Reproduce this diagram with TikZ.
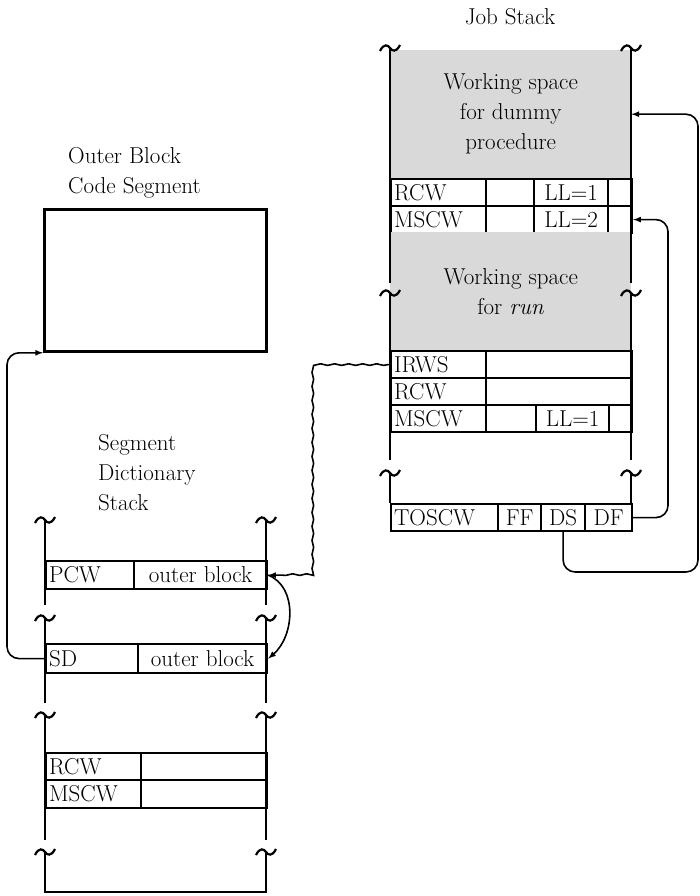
\documentclass[tikz,border=0pt]{standalone}
\usetikzlibrary{decorations.pathmorphing}

\begin{document}
\begin{tikzpicture}[
    x=1pt, y=-1pt,
    every node/.style = {font=\fontsize{23}{30}\selectfont, inner sep=0pt},
    slot/.style = {rectangle, draw, line width=2.2pt, anchor=north west, minimum height=27pt, inner xsep=3pt, inner ysep=0pt},
    cell/.style = {slot, minimum width=#1},
    lcell/.style = {slot, minimum width=#1, text width=#1-6pt, align=left},
    wspace/.style = {rectangle, fill=gray!30, anchor=north west, align=center, minimum width=241pt},
    codebox/.style = {rectangle, draw, line width=2.8pt, anchor=north west},
    frame/.style = {line width=2.6pt},
    link/.style = {draw, -latex, line width=1.6pt, rounded corners=12pt},
    wavy/.style = {rounded corners=0pt, decorate, decoration={snake, amplitude=0.8pt, segment length=14pt, pre length=2pt, post length=10pt}},
    brk/.pic = {\draw[line width=2.2pt] (-10,3) .. controls (-6,-5) and (-2,-3) .. (0,0) .. controls (2,3) and (6,5) .. (10,-3);}
]
    \useasboundingbox (0,0) rectangle (700,896);

    % Job stack
    \node (jobTitle) at (510,17) {Job Stack};
    \node [wspace, minimum height=128pt] (wsDummy) at (390,50) {Working space\\for dummy\\procedure};
    \node [lcell=95pt] (r1A) at (390,178) {RCW};
    \node [cell=48pt] (r1B) at (485,178) {};
    \node [cell=74pt] (r1C) at (533,178) {LL=1};
    \node [cell=24pt] (r1D) at (607,178) {};
    \node [lcell=95pt] (m2A) at (390,205) {MSCW};
    \node [cell=48pt] (m2B) at (485,205) {};
    \node [cell=74pt] (m2C) at (533,205) {LL=2};
    \node [cell=24pt] (m2D) at (607,205) {};
    \node [wspace, minimum height=118pt] (wsRun) at (390,232) {Working space\\for \textit{run}};
    \node [lcell=95pt] (irwsA) at (390,350) {IRWS};
    \node [cell=146pt] (irwsB) at (485,350) {};
    \node [lcell=95pt] (r3A) at (390,377) {RCW};
    \node [cell=146pt] (r3B) at (485,377) {};
    \node [lcell=95pt] (m3A) at (390,404) {MSCW};
    \node [cell=50pt] (m3B) at (485,404) {};
    \node [cell=73pt] (m3C) at (535,404) {LL=1};
    \node [cell=23pt] (m3D) at (608,404) {};
    \node [lcell=107pt] (tosA) at (390,503) {TOSCW};
    \node [cell=43pt] (tosB) at (497,503) {FF};
    \node [cell=44pt] (tosC) at (540,503) {DS};
    \node [cell=47pt] (tosD) at (584,503) {DF};

    \draw [frame] (390,48) -- (390,283) (631,48) -- (631,283);
    \draw [frame] (390,293) -- (390,460) (631,293) -- (631,460);
    \draw [frame] (390,473) -- (390,503) (631,473) -- (631,503);
    \pic at (390,48) {brk};
    \pic at (631,48) {brk};
    \pic at (390,293) {brk};
    \pic at (631,293) {brk};
    \pic at (390,473) {brk};
    \pic at (631,473) {brk};

    % Outer block code segment
    \node [anchor=west, align=left] (codeTitle) at (68,173) {Outer Block\\Code Segment};
    \node [codebox, minimum width=222pt, minimum height=142pt] (code) at (43,208) {};

    % Segment dictionary stack
    \node [anchor=west, align=left] (segTitle) at (98,473) {Segment\\Dictionary\\Stack};
    \node [lcell=88pt, minimum height=28pt] (pcwA) at (45,560) {PCW};
    \node [cell=133pt, minimum height=28pt] (pcwB) at (133,560) {outer block};
    \node [lcell=92pt, minimum height=29pt] (sdA) at (45,643) {SD};
    \node [cell=129pt, minimum height=29pt] (sdB) at (137,643) {outer block};
    \node [lcell=95pt] (r4A) at (45,752) {RCW};
    \node [cell=126pt] (r4B) at (140,752) {};
    \node [lcell=95pt, minimum height=28pt] (m4A) at (45,779) {MSCW};
    \node [cell=126pt, minimum height=28pt] (m4B) at (140,779) {};

    \draw [frame] (45,520) -- (45,605) (266,520) -- (266,605);
    \draw [frame] (45,618) -- (45,703) (266,618) -- (266,703);
    \draw [frame] (45,715) -- (45,840) (266,715) -- (266,840);
    \draw [frame] (45,852) -- (45,892) -- (266,892) -- (266,852);
    \pic at (45,520) {brk};
    \pic at (266,520) {brk};
    \pic at (45,618) {brk};
    \pic at (266,618) {brk};
    \pic at (45,715) {brk};
    \pic at (266,715) {brk};
    \pic at (45,852) {brk};
    \pic at (266,852) {brk};

    % Edges
    \coordinate (bendRWS) at (318,450);
    \coordinate (bendSD) at (7,500);
    \coordinate (bendDF) at (668,370);
    \coordinate (bendDS) at (698,572);

    \path [link, wavy] (irwsA.west) -| (bendRWS) |- (pcwB.east);
    \path [link] (pcwB.east) .. controls +(30,12) and +(26,-22) .. (sdB.east);
    \path [link] (sdA.west) -| (bendSD) |- (code.south west);
    \path [link] (tosD.east) -| (bendDF) |- (m2D.east);
    \path [link] (tosC.south) |- (bendDS) |- (wsDummy.east);

\end{tikzpicture}
\end{document}
